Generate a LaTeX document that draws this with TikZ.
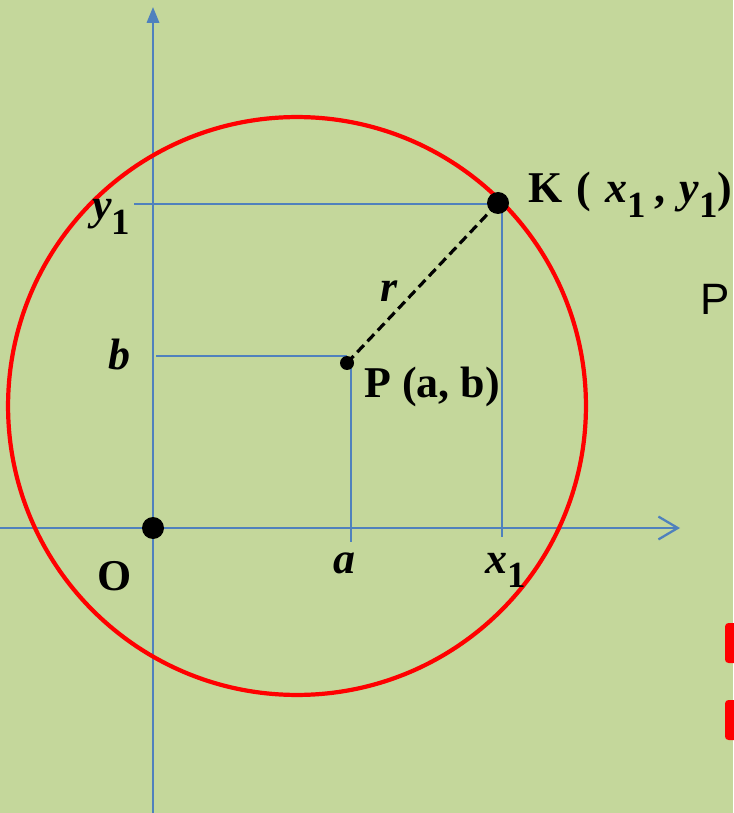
\documentclass[tikz,border=0pt]{standalone}
\usepackage{fontspec}
\setmainfont{Liberation Serif}
\newfontfamily\handfont{Liberation Sans}
\usepackage{tikz}
\usetikzlibrary{arrows.meta, calc}
\usepackage{xcolor}
\definecolor{bggreen}{RGB}{196,215,155}
\definecolor{axisblue}{RGB}{79,129,189}
\newcommand{\idx}[1]{\raisebox{-8pt}{\fontsize{21}{24}\selectfont\upshape #1}}
\tikzset{
  lbl/.style={anchor=base west, inner sep=0pt, font=\fontsize{25}{30}\selectfont\bfseries},
  guide/.style={axisblue, line width=1.1pt}
}

\begin{document}
\begin{tikzpicture}[x=0.02cm, y=-0.02cm]
  \useasboundingbox (0,0) rectangle (733,813);
  \fill[bggreen] (0,0) rectangle (733,813);
  \coordinate (O) at (153,528);
  \coordinate (P) at (347,363);
  \coordinate (K) at (498,203);
  \coordinate (xend) at (680,528);
  \coordinate (xstart) at (0,528);
  \coordinate (ystart) at (153,813);
  \coordinate (yend) at (153,7);
  % Achsen
  \draw[axisblue, line width=1.3pt, -{Straight Barb[length=11pt, width=13pt, line width=1.3pt]}] (xstart) -- (xend);
  \draw[axisblue, line width=1.3pt, -{Triangle[length=9pt, width=7pt]}] (ystart) -- (yend);
  % Hilfslinien
  \draw[guide] (134,204) -- (502,204) -- (502,537);
  \draw[guide] (156,356) -- (347,356);
  \draw[guide] (351,367) -- (351,542);
  % Kreis
  \draw[red, line width=2.4pt] (297,406) circle (5.78cm);
  \draw[black, line width=1.8pt, dash pattern=on 5.5pt off 3pt] (P) -- (K);
  \fill (O) circle (0.22cm);
  \fill (K) circle (0.22cm);
  \fill (P) circle (0.14cm);
  % Beschriftung
  \node[lbl] (Klabel) at (528,203) {K\hspace{8pt}(\hspace{8pt}\textit{x}\idx{1}\hspace{5pt},\hspace{8pt}\textit{y}\idx{1})};
  \node[lbl] (ylabel) at (92,220) {\textit{y}\idx{1}};
  \node[lbl] (blabel) at (108,370) {\textit{b}};
  \node[lbl] (rlabel) at (380,302) {\textit{r}};
  \node[lbl] (Plabel) at (364,398) {P (a, b)};
  \node[lbl] (Olabel) at (97,590) {O};
  \node[lbl] (alabel) at (333,573) {\textit{a}};
  \node[lbl] (xlabel) at (485,573) {\textit{x}\idx{1}};
  \node[anchor=base west, inner sep=0pt, font=\handfont\fontsize{25}{30}\selectfont] (side) at (700,315) {P};
  % rote Balken
  \fill[red, rounded corners=2pt] (725,623) rectangle (745,663);
  \fill[red, rounded corners=2pt] (725,700) rectangle (745,740);
\end{tikzpicture}
\end{document}
